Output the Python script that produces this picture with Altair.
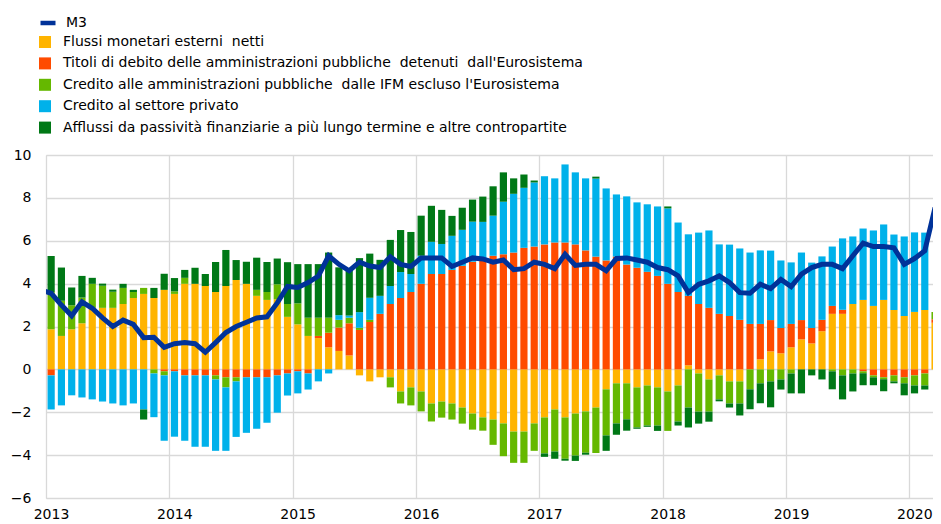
import altair as alt
import pandas as pd

# Month index 0 = Jan 2013 ... 86 = Mar 2020
year_labels = [2013, 2014, 2015, 2016, 2017, 2018, 2019, 2020]

series_names = [
    "Flussi monetari esterni\u00a0 netti",
    "Titoli di debito delle amministrazioni pubbliche\u00a0 detenuti\u00a0 dall'Eurosistema",
    "Credito alle amministrazioni pubbliche\u00a0 dalle IFM escluso l'Eurosistema",
    "Credito al settore privato",
    "Afflussi da passività finanziarie a più lungo termine e altre contropartite",
]
series_colors = ["#FFB400", "#FF4B00", "#65B800", "#00B1EA", "#007816"]

flussi = [
    1.87, 1.56, 1.87, 2.15, 2.87, 2.87, 2.87, 3.05, 3.33, 3.52, 3.33, 3.71,
    3.52, 3.99, 3.99, 3.89, 3.61, 3.89, 4.17, 3.99, 3.43, 3.24, 3.27, 2.45,
    2.10, 1.56, 1.46, 1.03, 0.86, 0.65, -0.28, -0.56, -0.37, -0.37, -1.03, -0.84,
    -1.03, -1.59, -1.50, -1.59, -1.78, -2.06, -2.24, -2.34, -2.52, -2.90, -2.90, -2.52,
    -2.24, -1.87, -2.24, -2.06, -1.96, -1.78, -0.93, -0.65, -0.65, -0.84, -0.75, -0.84,
    -1.03, -0.75, 0.19, -0.19, -0.47, -0.28, -0.56, -0.56, 0.00, 0.47, 0.84, 0.75,
    1.03, 1.40, 1.21, 1.78, 2.59, 2.59, 3.05, 3.24, 2.96, 3.24, 2.77, 2.49,
    2.68, 2.77, 2.18,
]
titoli = [
    -0.28, 0.00, 0.00, 0.00, 0.00, 0.00, 0.00, 0.00, 0.00, 0.00, 0.00, -0.09,
    -0.09, -0.28, -0.28, -0.28, -0.28, -0.37, -0.37, -0.37, -0.37, -0.37, -0.28, -0.19,
    -0.09, -0.19, 0.10, 0.68, 1.09, 1.50, 1.84, 2.21, 2.59, 3.05, 3.33, 3.61,
    3.99, 4.45, 4.45, 4.64, 4.83, 5.02, 5.06, 5.30, 5.37, 5.45, 5.67, 5.73,
    5.83, 5.92, 5.92, 5.83, 5.55, 5.26, 5.08, 5.26, 4.89, 4.74, 4.55, 4.36,
    3.99, 3.61, 3.24, 3.05, 2.87, 2.59, 2.49, 2.31, 2.12, 1.65, 1.46, 1.18,
    1.09, 0.90, 0.72, 0.53, 0.37, 0.19, 0.00, -0.09, -0.28, -0.37, -0.28, -0.37,
    -0.28, -0.19, 0.16,
]
credito_ap = [
    1.74, 1.64, 1.12, 1.20, 1.12, 1.03, 0.75, 0.75, 0.28, 0.28, -0.19, -0.19,
    0.12, 0.28, 0.00, 0.00, -0.19, -0.47, -0.19, 0.00, 0.28, 0.37, 0.70, 0.60,
    0.98, 0.85, 0.85, 0.70, 0.36, 0.26, 0.10, 0.10, 0.00, -0.47, -0.56, -0.84,
    -0.93, -0.84, -0.75, -0.75, -0.75, -0.75, -0.62, -1.18, -1.53, -1.46, -1.46, -1.28,
    -1.68, -1.96, -1.93, -1.96, -1.93, -2.12, -2.15, -1.87, -1.68, -1.87, -1.87, -1.78,
    -1.84, -1.68, -1.78, -1.78, -1.50, -1.12, -1.03, -1.03, -0.93, -0.65, -0.56, -0.47,
    -0.19, 0.00, 0.00, 0.00, -0.09, -0.28, -0.19, -0.09, -0.09, -0.09, -0.28, -0.28,
    -0.47, -0.56, 0.34,
]
credito_privato = [
    -1.59, -1.68, -1.21, -1.31, -1.40, -1.50, -1.59, -1.68, -1.59, -1.87, -2.04, -3.05,
    -3.05, -3.05, -3.33, -3.33, -3.33, -2.96, -2.59, -2.59, -2.40, -2.12, -1.74, -1.03,
    -1.03, -0.75, -0.56, -0.19, 0.22, 0.10, 0.73, 1.03, 0.84, 0.84, 1.21, 0.84,
    1.31, 1.50, 1.40, 1.59, 1.68, 1.87, 1.82, 1.87, 2.45, 2.74, 2.80, 2.99,
    3.18, 2.99, 3.64, 3.36, 3.36, 3.64, 3.36, 2.90, 3.18, 3.05, 3.15, 3.24,
    3.52, 3.24, 2.87, 3.33, 3.61, 3.24, 3.33, 3.33, 3.33, 3.43, 3.24, 3.15,
    2.87, 3.15, 3.05, 2.96, 2.77, 3.33, 3.15, 3.33, 3.52, 3.52, 3.52, 3.71,
    3.71, 3.61, 0.00,
]
afflussi = [
    1.68, 1.55, 0.83, 1.01, 0.28, 0.10, 0.10, 0.19, 0.10, -0.47, 0.47, 0.75,
    0.62, 0.37, 0.75, 0.56, 1.40, 1.68, 0.93, 1.03, 1.50, 1.40, 1.20, 1.95,
    1.83, 2.50, 2.50, 3.04, 2.23, 2.13, 2.52, 2.06, 1.68, 2.15, 1.96, 1.96,
    1.87, 1.68, 1.59, 0.93, 1.03, 1.03, 1.18, 1.37, 1.37, 0.72, 0.62, 0.09,
    -0.16, -0.34, -0.09, -0.25, -0.09, 0.09, -0.72, -0.53, -0.53, -0.06, -0.06, -0.25,
    0.09, -0.19, -0.93, -0.56, -0.47, -0.09, -0.19, -0.56, -0.93, -0.93, -1.21, -0.47,
    -0.93, -1.12, -0.28, -0.47, -0.84, -1.12, -0.84, -0.56, -0.37, -0.56, -0.09, -0.56,
    -0.37, -0.19, 0.00,
]
# M3 line: first value is Dec 2012 (only its tail is visible at the left edge)
m3_first_month = -1
m3 = [
    3.70,
    3.55, 3.00, 2.50, 3.15, 2.85, 2.40, 2.00, 2.30, 2.10, 1.48, 1.50, 1.03,
    1.20, 1.25, 1.20, 0.80, 1.25, 1.72, 2.00, 2.20, 2.40, 2.45, 3.10, 3.87,
    3.82, 4.05, 4.35, 5.30, 4.90, 4.60, 5.00, 4.82, 4.75, 5.25, 4.90, 4.80,
    5.20, 5.20, 5.20, 4.80, 5.00, 5.20, 5.15, 5.00, 5.10, 4.65, 4.70, 5.00,
    4.90, 4.70, 5.37, 4.85, 4.90, 4.90, 4.60, 5.17, 5.20, 5.10, 5.00, 4.75,
    4.65, 4.36, 3.58, 3.97, 4.13, 4.36, 4.05, 3.58, 3.55, 3.97, 3.77, 4.20,
    3.86, 4.44, 4.75, 4.90, 4.90, 4.70, 5.30, 5.89, 5.73, 5.73, 5.67, 4.90,
    5.17, 5.53, 7.55,
]

# ---- build tables ----
all_series = [flussi, titoli, credito_ap, credito_privato, afflussi]
rows = []
for i in range(len(flussi)):
    pos, neg = 0.0, 0.0
    for k, vals in enumerate(all_series):
        v = vals[i]
        if v == 0:
            continue
        if v > 0:
            y0, y1 = pos, pos + v
            pos = y1
        else:
            y0, y1 = neg, neg + v
            neg = y1
        rows.append({"m0": i + 0.15, "m1": i + 0.85, "y0": y0, "y1": y1,
                     "serie": series_names[k], "ord": k})
bars_df = pd.DataFrame(rows)
line_df = pd.DataFrame({
    "m": [m3_first_month + j + 0.5 for j in range(len(m3))],
    "v": m3,
    "serie": ["M3"] * len(m3),
})

FONT = "DejaVu Sans"
FS = 14
x_scale = alt.Scale(domain=[0, 86.3], nice=False, zero=False)
y_scale = alt.Scale(domain=[-6, 10], nice=False)

x_axis = alt.Axis(values=[0, 12, 24, 36, 48, 60, 72, 84],
                  labelExpr="'' + (2013 + datum.value / 12)",
                  grid=True, ticks=False, domain=False, labelPadding=9,
                  labelFlush=False, labelOverlap=False,
                  labelOffset=5, title=None, labelFontSize=FS, labelColor="#000000",
                  labelFont=FONT, gridColor="#d9d9d9", gridWidth=1.3)
y_axis = alt.Axis(values=[-6, -4, -2, 0, 2, 4, 6, 8, 10], grid=True, ticks=False,
                  domain=False, labelPadding=15, title=None, labelFontSize=FS,
                  labelColor="#000000", labelFont=FONT, gridColor="#d9d9d9", gridWidth=1.3)

bars = alt.Chart(bars_df).mark_rect(clip=True).encode(
    x=alt.X("m0:Q", scale=x_scale, axis=x_axis),
    x2="m1:Q",
    y=alt.Y("y0:Q", scale=y_scale, axis=y_axis),
    y2="y1:Q",
    color=alt.Color("serie:N",
                    scale=alt.Scale(domain=series_names, range=series_colors),
                    legend=alt.Legend(title=None, orient="none", legendX=-8, legendY=-120,
                                      symbolType="square", symbolSize=144,
                                      symbolStrokeWidth=0, labelFontSize=FS,
                                      labelFont=FONT, labelColor="#000000",
                                      labelOffset=11, rowPadding=7.4, padding=0,
                                      labelLimit=800)),
)

line = alt.Chart(line_df).mark_line(clip=True, strokeWidth=5).encode(
    x=alt.X("m:Q", scale=x_scale),
    y=alt.Y("v:Q", scale=y_scale),
    color=alt.Color("serie:N",
                    scale=alt.Scale(domain=["M3"], range=["#003299"]),
                    legend=alt.Legend(title=None, orient="none", legendX=-8, legendY=-142,
                                      symbolType="stroke", symbolSize=225,
                                      symbolStrokeWidth=4.5, labelFontSize=FS,
                                      labelFont=FONT, labelColor="#000000",
                                      labelOffset=8, padding=0)),
)

chart = alt.layer(bars, line).resolve_scale(color="independent").properties(
    width=887,
    height=343,
    autosize=alt.AutoSizeParams(type="none"),
    padding={"left": 38, "top": 147, "right": 0, "bottom": 26},
).configure_view(strokeWidth=0).configure(font=FONT)

chart.save("out.html", embed_options={"renderer": "svg", "actions": False})
